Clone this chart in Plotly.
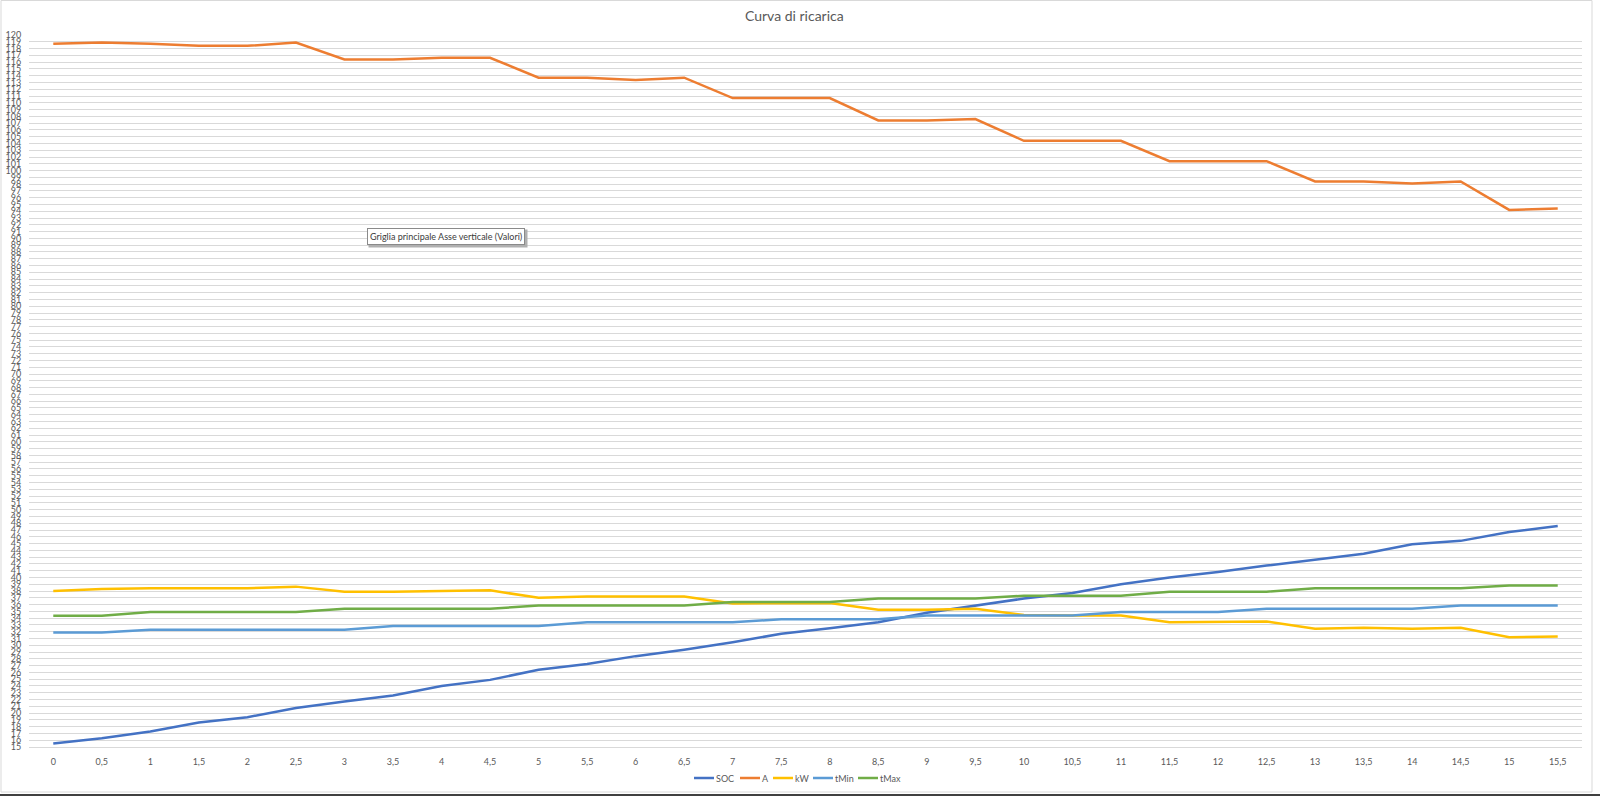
import plotly.graph_objects as go

categories = ["0", "0,5", "1", "1,5", "2", "2,5", "3", "3,5", "4", "4,5", "5", "5,5",
              "6", "6,5", "7", "7,5", "8", "8,5", "9", "9,5", "10", "10,5", "11", "11,5",
              "12", "12,5", "13", "13,5", "14", "14,5", "15", "15,5"]

soc = [15.5, 16.3, 17.3, 18.6, 19.4, 20.75, 21.7, 22.6, 24.0, 24.9, 26.4, 27.25,
       28.4, 29.35, 30.45, 31.7, 32.5, 33.4, 34.8, 35.8, 36.9, 37.7, 39.0, 40.0,
       40.8, 41.75, 42.6, 43.5, 44.9, 45.4, 46.7, 47.6]

amps = [118.7, 118.9, 118.7, 118.4, 118.4, 118.9, 116.4, 116.4, 116.65, 116.65, 113.7, 113.7,
        113.35, 113.7, 110.7, 110.7, 110.7, 107.4, 107.4, 107.6, 104.4, 104.4, 104.4, 101.4,
        101.4, 101.4, 98.4, 98.4, 98.1, 98.4, 94.2, 94.4]

kw = [38.0, 38.3, 38.4, 38.4, 38.4, 38.65, 37.9, 37.9, 38.0, 38.1, 37.0, 37.2,
      37.2, 37.2, 36.15, 36.15, 36.25, 35.25, 35.25, 35.4, 34.45, 34.4, 34.4, 33.4,
      33.4, 33.5, 32.45, 32.6, 32.45, 32.6, 31.2, 31.3]

tmin = [31.9, 31.9, 32.3, 32.3, 32.3, 32.3, 32.3, 32.85, 32.85, 32.85, 32.85, 33.4,
        33.4, 33.4, 33.4, 33.85, 33.85, 33.85, 34.4, 34.4, 34.4, 34.4, 34.9, 34.9,
        34.9, 35.4, 35.4, 35.4, 35.4, 35.85, 35.85, 35.85]

tmax = [34.35, 34.35, 34.9, 34.9, 34.9, 34.9, 35.4, 35.4, 35.4, 35.4, 35.85, 35.85,
        35.85, 35.85, 36.4, 36.4, 36.4, 36.9, 36.9, 36.9, 37.3, 37.3, 37.3, 37.9,
        37.9, 37.9, 38.4, 38.4, 38.4, 38.4, 38.8, 38.8]

series_names = ["SOC", "A", "kW", "tMin", "tMax"]
series_values = [soc, amps, kw, tmin, tmax]
series_colors = ["#4472C4", "#ED7D31", "#FFC000", "#5B9BD5", "#70AD47"]

y_ticks = list(range(15, 121))

FONT = "Lato, 'Open Sans', sans-serif"
GRAY = "#595959"

fig = go.Figure()
for name, vals, color in zip(series_names, series_values, series_colors):
    fig.add_trace(go.Scatter(x=categories, y=vals, name=name, mode="lines",
                             line=dict(color=color, width=2.5), showlegend=False))

W, H = 1600, 796
ml, mr, mt, mb = 29, 18, 35, 49
pw, ph = W - ml - mr, H - mt - mb

def px_x(p):
    return (p - ml) / pw

def px_y(p):
    return (H - mb - p) / ph

fig.update_layout(
    width=W, height=H,
    margin=dict(l=ml, r=mr, t=mt, b=mb, autoexpand=False),
    paper_bgcolor="white", plot_bgcolor="white",
    font=dict(family=FONT, color=GRAY, size=9),
    title=dict(text="Curva di ricarica", x=px_x(800), xanchor="center",
               y=1 - 16 / H, yanchor="middle",
               font=dict(size=14, color=GRAY, family=FONT)),
    showlegend=False,
    xaxis=dict(type="category", categoryorder="array", categoryarray=categories,
               range=[-0.5, len(categories) - 0.5], showgrid=False,
               showline=True, linecolor="#d9d9d9", linewidth=1,
               ticks="outside", ticklen=6, tickcolor="rgba(0,0,0,0)",
               tickfont=dict(size=9, color=GRAY, family=FONT),
               zeroline=False, automargin=False, fixedrange=True),
    yaxis=dict(range=[15, 120], tickmode="array", tickvals=y_ticks,
               ticktext=[str(v) for v in y_ticks],
               showgrid=True, gridcolor="#d9d9d9", gridwidth=1,
               showline=False, zeroline=False,
               ticks="outside", ticklen=5, tickcolor="rgba(0,0,0,0)",
               tickfont=dict(size=9, color=GRAY, family=FONT),
               automargin=False, fixedrange=True),
)

# legend drawn Excel-style (short line sample + label), centered under the plot
legend_line_x = [694, 740, 773, 813, 858]
legend_y = 778
for name, color, lx in zip(series_names, series_colors, legend_line_x):
    fig.add_shape(type="line", xref="paper", yref="paper",
                  x0=px_x(lx), x1=px_x(lx + 20), y0=px_y(legend_y), y1=px_y(legend_y),
                  line=dict(color=color, width=2.5))
    fig.add_annotation(xref="paper", yref="paper", x=px_x(lx + 21), y=px_y(legend_y),
                       xanchor="left", yanchor="middle", text=name, showarrow=False,
                       borderpad=0,
                       font=dict(size=9, color=GRAY, family=FONT))

# chart area border and window edge
fig.add_shape(type="rect", xref="paper", yref="paper",
              x0=px_x(1), x1=px_x(1592), y0=px_y(792), y1=px_y(0.5),
              line=dict(color="#d9d9d9", width=1), layer="below")
fig.add_shape(type="line", xref="paper", yref="paper",
              x0=px_x(0), x1=px_x(1600), y0=px_y(795), y1=px_y(795),
              line=dict(color="#404040", width=2), layer="above")

# hover tooltip from the screenshot
tip = "Griglia principale Asse verticale (Valori)"
fig.add_annotation(xref="paper", yref="paper", x=px_x(446), y=px_y(236),
                   xanchor="center", yanchor="middle",
                   text=tip, showarrow=False, xshift=2, yshift=-2,
                   font=dict(size=9, color="rgba(0,0,0,0)", family=FONT),
                   bgcolor="#b0b0b0", borderpad=3)
fig.add_annotation(xref="paper", yref="paper", x=px_x(446), y=px_y(236),
                   xanchor="center", yanchor="middle",
                   text=tip, showarrow=False,
                   font=dict(size=9, color="#3b3b3b", family=FONT),
                   bgcolor="white", bordercolor="#8a8a8a", borderwidth=1, borderpad=2)

fig.write_html("out.html")
